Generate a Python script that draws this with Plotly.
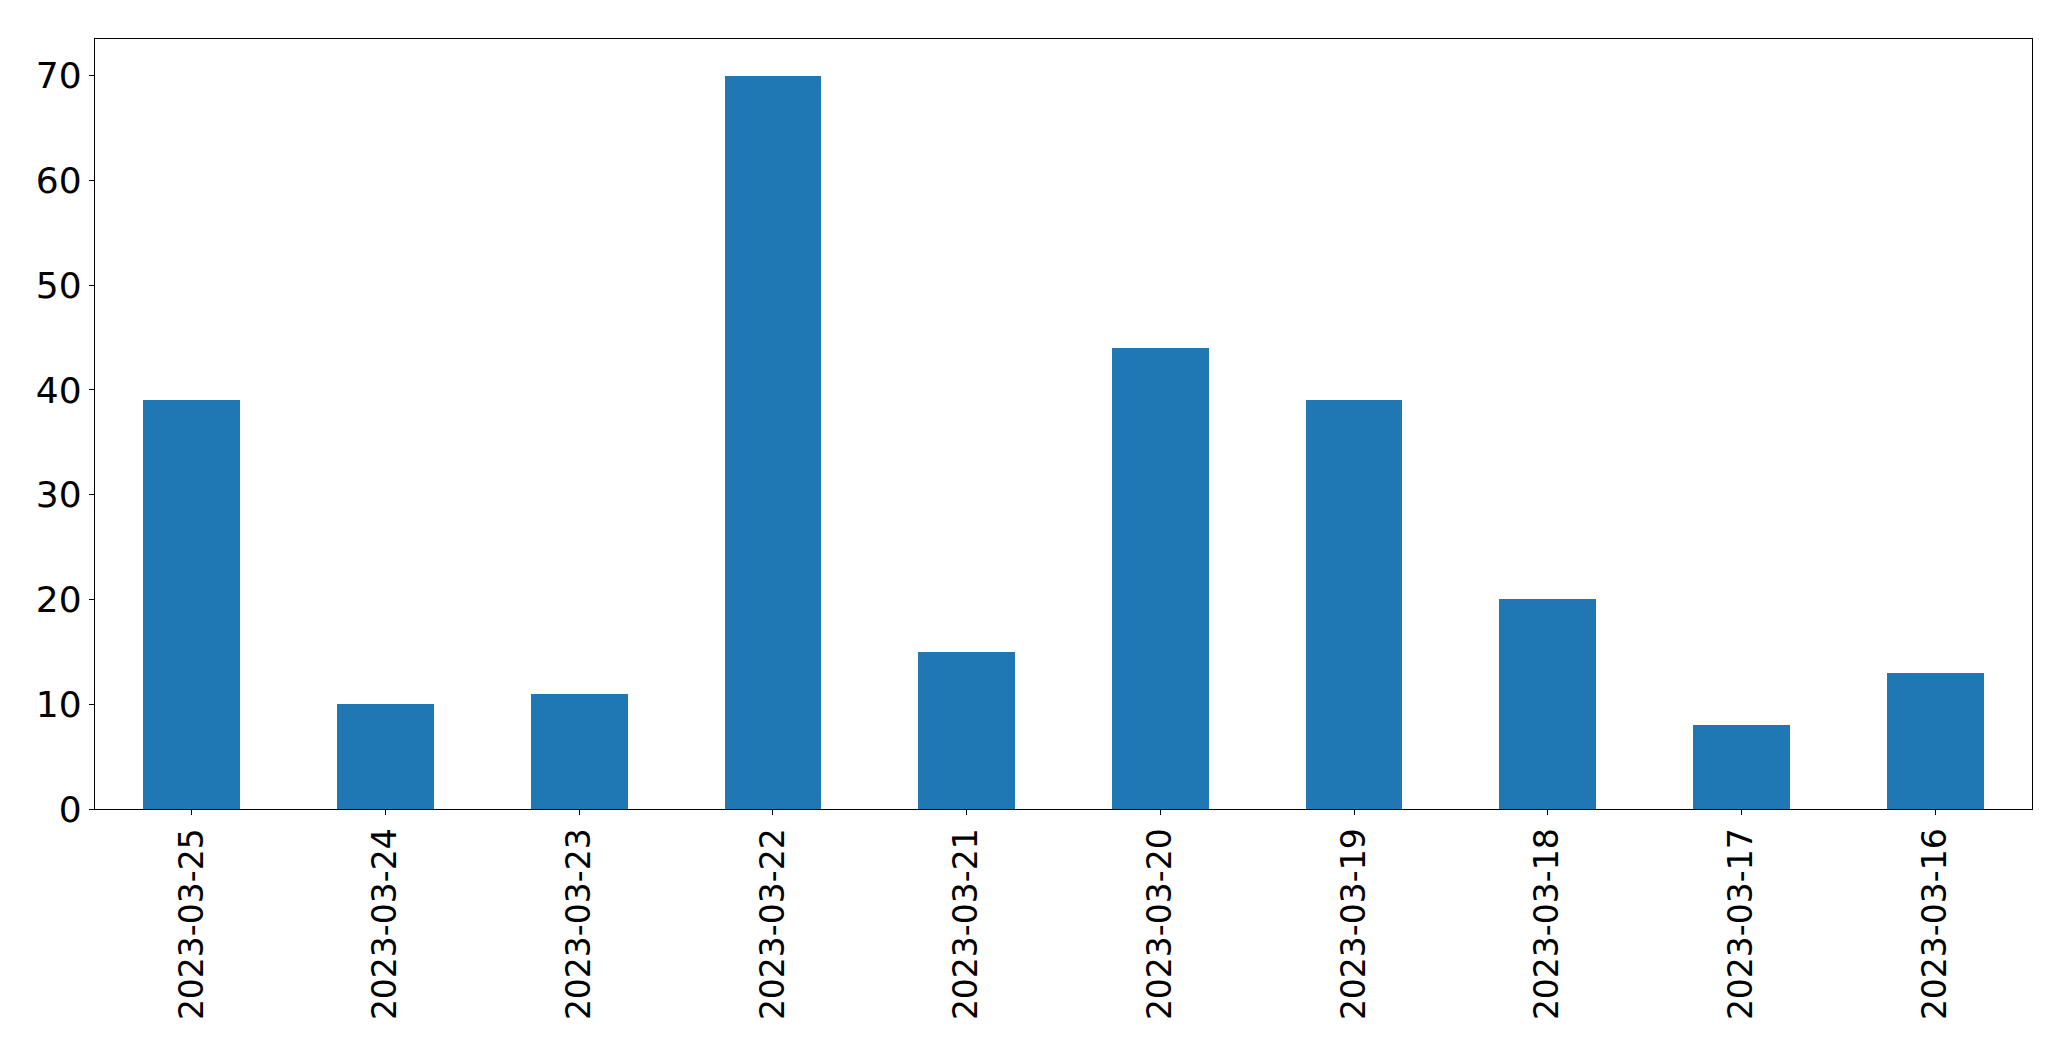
import plotly.graph_objects as go

dates = ["2023-03-25", "2023-03-24", "2023-03-23", "2023-03-22", "2023-03-21",
         "2023-03-20", "2023-03-19", "2023-03-18", "2023-03-17", "2023-03-16"]
counts = [39, 10, 11, 70, 15, 44, 39, 20, 8, 13]

fig = go.Figure(go.Bar(x=dates, y=counts, width=0.5, marker_color="#1f77b4",
                       marker_line_width=0))

axis_common = dict(showline=True, linecolor="black", linewidth=1.3, mirror=True,
                   ticks="outside", ticklen=5, tickwidth=1.3, tickcolor="black",
                   showgrid=False, zeroline=False)

fig.update_xaxes(type="category", range=[-0.5, 9.5], tickangle=-90,
                 ticklabelstandoff=0,
                 tickfont=dict(family="DejaVu Sans", size=33, color="black"),
                 **axis_common)
fig.update_yaxes(range=[0, 73.5], tickvals=[0, 10, 20, 30, 40, 50, 60, 70],
                 ticklabelstandoff=0,
                 tickfont=dict(family="DejaVu Sans", size=36, color="black"),
                 **axis_common)

fig.update_layout(width=2071, height=1061, plot_bgcolor="white", paper_bgcolor="white",
                  margin=dict(l=95, r=39, t=39, b=252, autoexpand=False),
                  showlegend=False, bargap=0)

fig.write_html("out.html")
